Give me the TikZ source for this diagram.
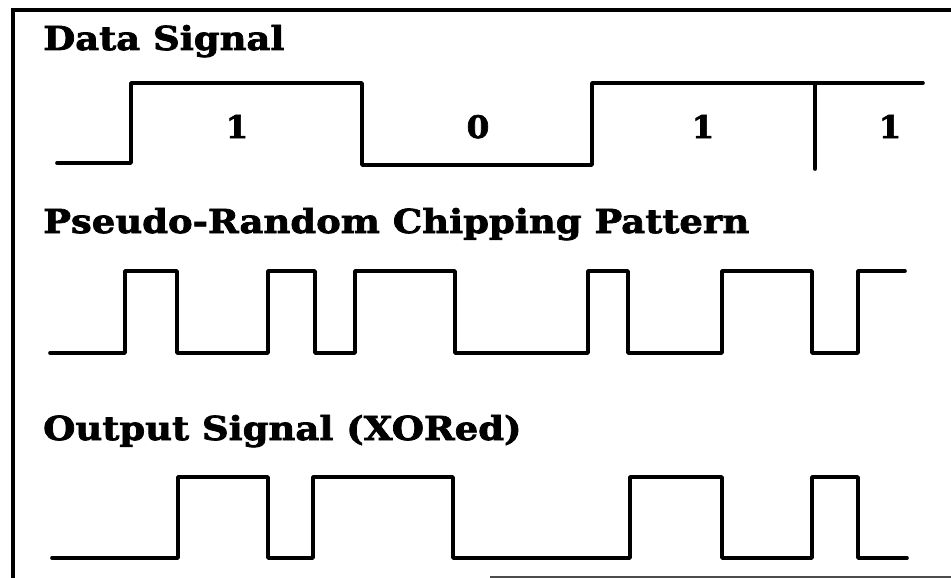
\documentclass[tikz,border=0pt]{standalone}
\usepackage{fontspec}
\setmainfont{DejaVu Serif}
\newfontfamily\heavy{DejaVu Serif Bold}[FakeBold=2.2,FakeStretch=1.12]
\newfontfamily\heavybit{DejaVu Serif Bold}[FakeBold=2.2,FakeStretch=1.05]
\begin{document}
\begin{tikzpicture}[x=1pt,y=-1pt,
  wave/.style={line width=3.6pt,line join=round,line cap=round},
  frame/.style={line width=3.4pt},
  title/.style={anchor=base west,inner sep=0pt,font=\fontsize{33}{36}\heavy},
  bit/.style={anchor=base,inner sep=0pt,font=\fontsize{31}{34}\heavybit}]
\useasboundingbox (0,0) rectangle (951,578);
\fill[white] (0,0) rectangle (951,578);
% frame
\draw[frame] (13,578) -- (13,10) -- (951,10);
\draw[line width=2pt,black!70] (490,577) -- (951,577);
% titles
\node[title] (t1) at (43,50) {Data Signal};
\node[title] (t2) at (43,233) {Pseudo-Random Chipping Pattern};
\node[title] (t3) at (43,440) {Output Signal (XORed)};
% data signal
\draw[wave] (57,163) -- (131,163) -- (131,83) -- (362,83) -- (362,165) -- (592,165) -- (592,83) -- (923,83);
\draw[wave] (815,83) -- (815,169);
\node[bit] (b1) at (237,138) {1};
\node[bit] (b2) at (478,138) {0};
\node[bit] (b3) at (703,138) {1};
\node[bit] (b4) at (890,138) {1};
% chipping pattern
\draw[wave] (50,353) -- (125,353) -- (125,271) -- (177,271) -- (177,353) -- (268,353) -- (268,271) -- (315,271) -- (315,353) -- (355,353) -- (355,271) -- (455,271) -- (455,353) -- (588,353) -- (588,271) -- (628,271) -- (628,353) -- (722,353) -- (722,271) -- (812,271) -- (812,353) -- (858,353) -- (858,271) -- (905,271);
% output signal
\draw[wave] (52,558) -- (178,558) -- (178,477) -- (268,477) -- (268,558) -- (313,558) -- (313,477) -- (453,477) -- (453,558) -- (630,558) -- (630,477) -- (722,477) -- (722,558) -- (812,558) -- (812,477) -- (858,477) -- (858,558) -- (907,558);
\end{tikzpicture}
\end{document}
